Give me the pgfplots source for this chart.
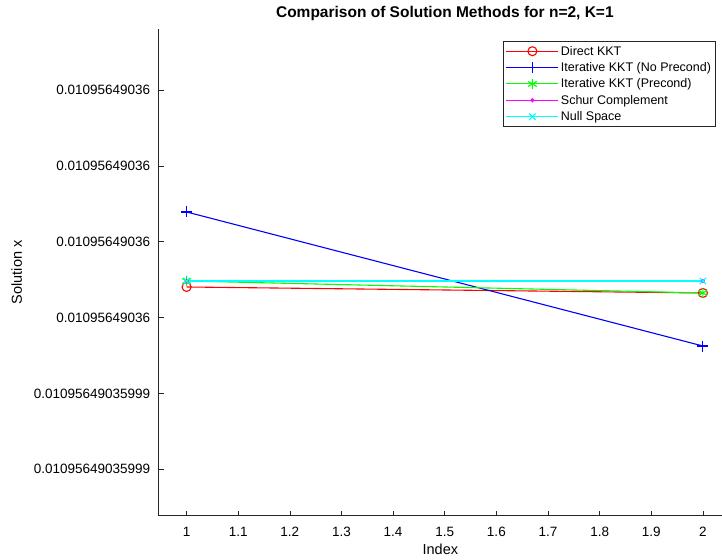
\documentclass[border=0pt]{standalone}
\usepackage{fontspec}
\setmainfont{Liberation Sans}
\usepackage{pgfplots}
\pgfplotsset{compat=1.18}

\definecolor{axgray}{rgb}{0.15,0.15,0.15}
\definecolor{mred}{rgb}{1,0,0}
\definecolor{mblue}{rgb}{0,0,1}
\definecolor{mgreen}{rgb}{0,1,0}
\definecolor{mmagenta}{rgb}{1,0,1}
\definecolor{mcyan}{rgb}{0,1,1}

\begin{document}
\begin{tikzpicture}
\path[use as bounding box] (0,0) rectangle (722pt,559pt);
\begin{axis}[
    at={(158.7pt,43.3pt)}, anchor=south west,
    width=563.3pt, height=486.7pt, scale only axis,
    xmin=0.946, xmax=2.037,
    ymin=-0.612, ymax=5.804,
    axis x line=bottom, axis y line=left,
    axis line style={-, draw=axgray, line width=0.6pt},
    tick style={draw=axgray, line width=0.6pt},
    major tick length=5pt,
    tick align=inside,
    xtick={1,1.1,1.2,1.3,1.4,1.5,1.6,1.7,1.8,1.9,2},
    xticklabels={1,1.1,1.2,1.3,1.4,1.5,1.6,1.7,1.8,1.9,2},
    ytick={0,1,2,3,4,5},
    yticklabels={0.01095649035999,0.01095649035999,0.01095649036,0.01095649036,0.01095649036,0.01095649036},
    ticklabel style={font=\fontsize{13.5}{15}\selectfont},
    xticklabel style={yshift=-8pt},
    yticklabel style={xshift=-5pt},
    xlabel={Index}, ylabel={Solution x},
    ylabel shift=5pt,
    label style={font=\fontsize{14.5}{16}\selectfont},
    title={\textbf{Comparison of Solution Methods for n=2, K=1}},
    title style={font=\fontsize{15.5}{18}\selectfont, at={(axis description cs:0.508,1)}, yshift=-1pt},
    legend style={at={(axis description cs:0.989,0.975)}, anchor=north east,
        font=\fontsize{12.5}{14}\selectfont, draw=axgray, line width=0.6pt,
        cells={anchor=west}, inner sep=2.5pt, row sep=1.8pt},
    legend image code/.code={
        \draw[mark repeat=2, mark phase=2, line width=1.1pt] plot coordinates {(0pt,0pt) (26pt,0pt) (52pt,0pt)};
    },
    every axis plot/.append style={line width=1.1pt},
]
\addplot[draw=mred, mark=o, mark size=4.5pt, mark options={draw=mred}] coordinates {(1,2.403) (2,2.324)};
\addplot[draw=mblue, mark=+, mark size=5.5pt, mark options={draw=mblue}] coordinates {(1,3.392) (2,1.625)};
\addplot[draw=mgreen, mark=asterisk, mark size=5pt, mark options={draw=mgreen}] coordinates {(1,2.482) (2,2.324)};
\addplot[draw=mmagenta, mark=*, mark size=1.5pt, mark options={draw=mmagenta, fill=mmagenta}] coordinates {(1,2.482) (2,2.482)};
\addplot[draw=mcyan, mark=x, mark size=4.5pt, mark options={draw=mcyan}] coordinates {(1,2.482) (2,2.482)};
\legend{Direct KKT, Iterative KKT (No Precond), Iterative KKT (Precond), Schur Complement, Null Space}
\end{axis}
\end{tikzpicture}
\end{document}
